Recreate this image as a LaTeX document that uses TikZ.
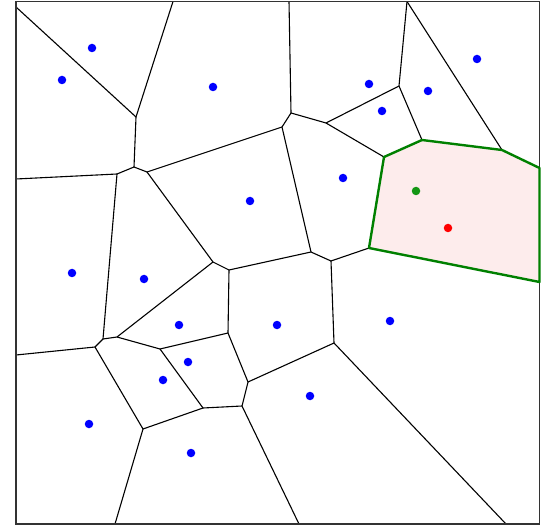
\documentclass[tikz,border=0pt]{standalone}
\usepackage{tikz}
\definecolor{cellfill}{RGB}{253,236,236}
\definecolor{cellline}{RGB}{0,128,0}
\definecolor{sitegreen}{RGB}{20,150,20}

\begin{document}
\begin{tikzpicture}[x=1pt,y=-1pt,
	edge/.style={line width=1.1pt, black},
	site/.style={circle, fill=blue, inner sep=0pt, minimum size=8.5pt},
	query/.style={site, fill=red},
	centre/.style={site, fill=sitegreen}]
			\useasboundingbox (0,0) rectangle (556,526);
			
			% frame and border points
			\coordinate (tl) at (16,1.5);
			\coordinate (tr) at (539.5,1.5);
			\coordinate (br) at (539.5,524);
			\coordinate (bl) at (16,524);
			\coordinate (l1) at (16,7);
			\coordinate (l2) at (16,179);
			\coordinate (l3) at (16,355);
			\coordinate (t1) at (173,1.5);
			\coordinate (t2) at (289,1.5);
			\coordinate (t3) at (407,1.5);
			\coordinate (r1) at (539.5,168);
			\coordinate (r2) at (539.5,282);
			\coordinate (b1) at (115,524);
			\coordinate (b2) at (299,524);
			\coordinate (b3) at (506,524);
			
			% voronoi vertices
			\coordinate (A) at (136,117);
			\coordinate (B) at (134,167);
			\coordinate (C) at (117,174);
			\coordinate (D) at (147,172);
			\coordinate (E) at (291,113);
			\coordinate (F) at (282,127);
			\coordinate (G) at (326,123);
			\coordinate (H) at (399,86);
			\coordinate (I) at (422,140);
			\coordinate (J) at (384,157);
			\coordinate (K) at (502,150);
			\coordinate (L) at (369,248);
			\coordinate (M) at (311,252);
			\coordinate (N) at (331,261);
			\coordinate (O) at (334,343);
			\coordinate (P1) at (95,347);
			\coordinate (P2) at (103,339);
			\coordinate (P3) at (117,337);
			\coordinate (Q) at (143,429);
			\coordinate (R) at (203,408);
			\coordinate (S) at (242,406);
			\coordinate (T) at (248,382);
			\coordinate (U) at (228,333);
			\coordinate (V) at (229,270);
			\coordinate (W) at (213,262);
			\coordinate (X) at (160,349);
			
			% highlighted cell
			\fill[cellfill] (J) -- (I) -- (K) -- (r1) -- (r2) -- (L) -- cycle;
			
			\draw[edge] (l1) -- (A);
			\draw[edge] (A) -- (t1);
			\draw[edge] (A) -- (B);
			\draw[edge] (B) -- (C);
			\draw[edge] (C) -- (l2);
			\draw[edge] (B) -- (D);
			\draw[edge] (D) -- (F);
			\draw[edge] (F) -- (E);
			\draw[edge] (E) -- (t2);
			\draw[edge] (E) -- (G);
			\draw[edge] (G) -- (H);
			\draw[edge] (H) -- (t3);
			\draw[edge] (t3) -- (K);
			\draw[edge] (H) -- (I);
			\draw[edge] (G) -- (J);
			\draw[edge] (F) -- (M);
			\draw[edge] (M) -- (N);
			\draw[edge] (N) -- (L);
			\draw[edge] (N) -- (O);
			\draw[edge] (O) -- (b3);
			\draw[edge] (O) -- (T);
			\draw[edge] (T) -- (S);
			\draw[edge] (S) -- (b2);
			\draw[edge] (S) -- (R);
			\draw[edge] (R) -- (Q);
			\draw[edge] (Q) -- (b1);
			\draw[edge] (Q) -- (P1);
			\draw[edge] (P1) -- (l3);
			\draw[edge] (P1) -- (P2);
			\draw[edge] (P2) -- (C);
			\draw[edge] (P2) -- (P3);
			\draw[edge] (P3) -- (W);
			\draw[edge] (W) -- (D);
			\draw[edge] (W) -- (V);
			\draw[edge] (V) -- (M);
			\draw[edge] (V) -- (U);
			\draw[edge] (U) -- (T);
			\draw[edge] (U) -- (X);
			\draw[edge] (X) -- (P3);
			\draw[edge] (X) -- (R);
			
			\draw[line width=1.5pt, black!80] (tl) rectangle (br);
			\draw[cellline, line width=2.4pt, line join=round] (J) -- (I) -- (K) -- (r1) -- (r2) -- (L) -- cycle;
			
			% sites
			\node[site] (s1) at (92,48) {};
			\node[site] (s2) at (62,80) {};
			\node[site] (s3) at (213,87) {};
			\node[site] (s4) at (250,201) {};
			\node[site] (s5) at (477,59) {};
			\node[site] (s6) at (369,84) {};
			\node[site] (s7) at (428,91) {};
			\node[site] (s8) at (382,111) {};
			\node[site] (s9) at (343,178) {};
			\node[site] (s10) at (72,273) {};
			\node[site] (s11) at (144,279) {};
			\node[site] (s12) at (179,325) {};
			\node[site] (s13) at (277,325) {};
			\node[site] (s14) at (188,362) {};
			\node[site] (s15) at (163,380) {};
			\node[site] (s16) at (89,424) {};
			\node[site] (s17) at (191,453) {};
			\node[site] (s18) at (390,321) {};
			\node[site] (s19) at (310,396) {};
			\node[centre] (c) at (416,191) {};
			\node[query] (q) at (448,228) {};
		\end{tikzpicture}
\end{document}
